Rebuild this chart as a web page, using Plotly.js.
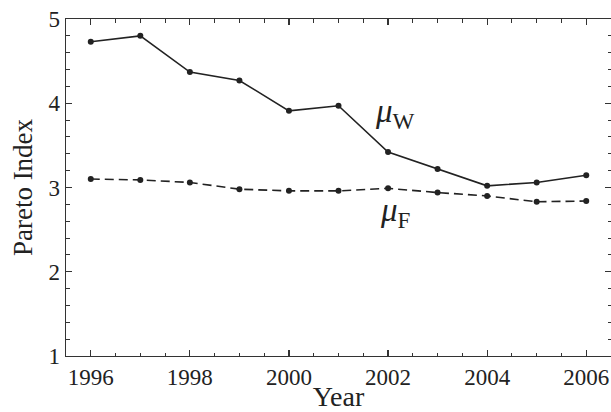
<!DOCTYPE html>
<html>
<head>
<meta charset="utf-8">
<script src="https://cdn.plot.ly/plotly-3.0.1.min.js"></script>
<style>
html,body{margin:0;padding:0;background:#fff;}
#chart{width:611px;height:412px;}
</style>
</head>
<body>
<div id="chart"></div>
<script>
const years = [1996, 1997, 1998, 1999, 2000, 2001, 2002, 2003, 2004, 2005, 2006];
const muW = [4.73, 4.80, 4.37, 4.27, 3.91, 3.97, 3.42, 3.22, 3.02, 3.06, 3.145];
const muF = [3.10, 3.09, 3.06, 2.98, 2.96, 2.96, 2.99, 2.94, 2.90, 2.83, 2.84];
const labelW = '<i>μ</i><sub>W</sub>';
const labelF = '<i>μ</i><sub>F</sub>';

const FONT = "'Liberation Serif', 'DejaVu Serif', serif";
const INK = '#222';

const traces = [
  {x: years, y: muW, type: 'scatter', mode: 'lines+markers',
   line: {color: INK, width: 1.6}, marker: {color: INK, size: 6}, showlegend: false},
  {x: years, y: muF, type: 'scatter', mode: 'lines+markers',
   line: {color: INK, width: 1.6, dash: '9px,5px'}, marker: {color: INK, size: 6}, showlegend: false}
];

const axisCommon = {
  showgrid: false, zeroline: false, showline: true, linecolor: '#333', linewidth: 1.3,
  mirror: 'ticks', ticks: 'inside', ticklen: 6, tickwidth: 1.2, tickcolor: '#333',
  tickfont: {family: FONT, size: 23, color: INK}
};

const layout = {
  width: 611, height: 412,
  margin: {l: 66, r: 0, t: 19, b: 56},
  paper_bgcolor: '#fff', plot_bgcolor: '#fff',
  font: {family: FONT, color: INK},
  xaxis: Object.assign({}, axisCommon, {
    range: [1995.5, 2006.5], dtick: 2, tick0: 1996,
    minor: {dtick: 0.5, tick0: 1996, ticks: 'inside', ticklen: 3.5, tickcolor: '#333', tickwidth: 1},
    title: {text: 'Year', font: {family: FONT, size: 28, color: INK}, standoff: 2}
  }),
  yaxis: Object.assign({}, axisCommon, {
    range: [1, 5], dtick: 1, tick0: 1,
    minor: {dtick: 0.2, tick0: 1, ticks: 'inside', ticklen: 3.5, tickcolor: '#333', tickwidth: 1},
    title: {text: 'Pareto Index', font: {family: FONT, size: 27, color: INK}, standoff: 8}
  }),
  annotations: [
    {x: 2002.15, y: 3.88, xref: 'x', yref: 'y', text: labelW, showarrow: false,
     font: {family: FONT, size: 33, color: INK}},
    {x: 2002.15, y: 2.70, xref: 'x', yref: 'y', text: labelF, showarrow: false,
     font: {family: FONT, size: 33, color: INK}}
  ]
};

Plotly.newPlot('chart', traces, layout, {displayModeBar: false, staticPlot: true});
</script>
</body>
</html>
